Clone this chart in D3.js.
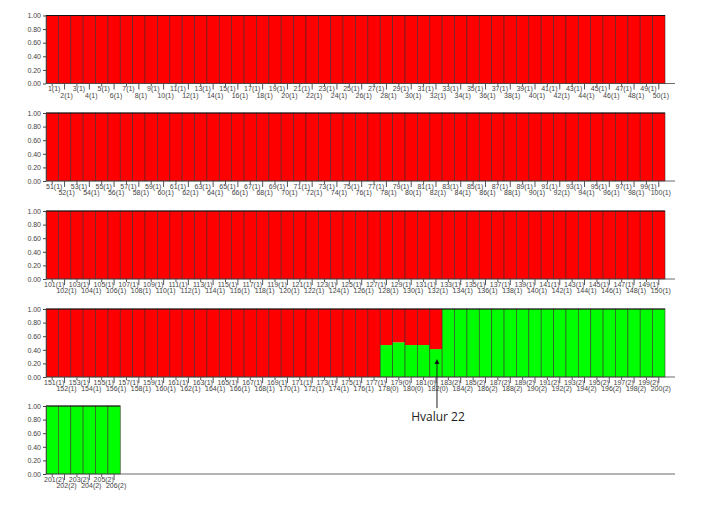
<!DOCTYPE html>
<html>
<head>
<meta charset="utf-8">
<script src="https://cdn.jsdelivr.net/npm/d3@7/dist/d3.min.js"></script>
<style>
  html, body { margin: 0; padding: 0; background: #fff; }
  svg { display: block; }
</style>
</head>
<body>
<svg id="chart" width="713" height="506"></svg>
<script>
// Population assignment for each individual (1..206)
const popIds = [
  1,1,1,1,1,1,1,1,1,1, 1,1,1,1,1,1,1,1,1,1, 1,1,1,1,1,1,1,1,1,1, 1,1,1,1,1,1,1,1,1,1, 1,1,1,1,1,1,1,1,1,1,
  1,1,1,1,1,1,1,1,1,1, 1,1,1,1,1,1,1,1,1,1, 1,1,1,1,1,1,1,1,1,1, 1,1,1,1,1,1,1,1,1,1, 1,1,1,1,1,1,1,1,1,1,
  1,1,1,1,1,1,1,1,1,1, 1,1,1,1,1,1,1,1,1,1, 1,1,1,1,1,1,1,1,1,1, 1,1,1,1,1,1,1,1,1,1, 1,1,1,1,1,1,1,1,1,1,
  1,1,1,1,1,1,1,1,1,1, 1,1,1,1,1,1,1,1,1,1, 1,1,1,1,1,1,1,0,0,0, 0,0,2,2,2,2,2,2,2,2, 2,2,2,2,2,2,2,2,2,2,
  2,2,2,2,2,2
];
// Membership in cluster 2 (green); cluster 1 (red) = 1 - value
const cluster2 = [
  0,0,0,0,0,0,0,0,0,0, 0,0,0,0,0,0,0,0,0,0, 0,0,0,0,0,0,0,0,0,0, 0,0,0,0,0,0,0,0,0,0, 0,0,0,0,0,0,0,0,0,0,
  0,0,0,0,0,0,0,0,0,0, 0,0,0,0,0,0,0,0,0,0, 0,0,0,0,0,0,0,0,0,0, 0,0,0,0,0,0,0,0,0,0, 0,0,0,0,0,0,0,0,0,0,
  0,0,0,0,0,0,0,0,0,0, 0,0,0,0,0,0,0,0,0,0, 0,0,0,0,0,0,0,0,0,0, 0,0,0,0,0,0,0,0,0,0, 0,0,0,0,0,0,0,0,0,0,
  0,0,0,0,0,0,0,0,0,0, 0,0,0,0,0,0,0,0,0,0, 0,0,0,0,0,0,0,0.47,0.51,0.47, 0.47,0.41,1,1,1,1,1,1,1,1, 1,1,1,1,1,1,1,1,1,1,
  1,1,1,1,1,1
];
const yTicks = [0, 0.2, 0.4, 0.6, 0.8, 1.0];
const annotation = { text: "Hvalur 22", individual: 182 };

const colors = { c1: "#ff0000", c2: "#00ff00" };
const perRow = 50;
const rowTops = [15.5, 113, 211, 309, 406];
const rowH = 68;
const left = 46, right = 665, axisEnd = 675;

const svg = d3.select("#chart");
const n = popIds.length;
const nRows = Math.ceil(n / perRow);

const x = d3.scaleBand().domain(d3.range(perRow)).range([left, right]).paddingInner(0).paddingOuter(0);

for (let r = 0; r < nRows; r++) {
  const top = rowTops[r];
  const y = d3.scaleLinear().domain([0, 1]).range([top + rowH, top]);
  const idx = d3.range(r * perRow, Math.min(n, (r + 1) * perRow));
  const g = svg.append("g");

  const bars = g.selectAll("g.bar").data(idx).join("g").attr("class", "bar");
  bars.append("rect")
    .attr("x", i => x(i - r * perRow))
    .attr("width", x.bandwidth())
    .attr("y", i => y(cluster2[i]))
    .attr("height", i => y(0) - y(cluster2[i]))
    .attr("fill", colors.c2);
  bars.append("rect")
    .attr("x", i => x(i - r * perRow))
    .attr("width", x.bandwidth())
    .attr("y", y(1))
    .attr("height", i => y(cluster2[i]) - y(1))
    .attr("fill", colors.c1);
  // outlines
  bars.append("rect")
    .attr("x", i => x(i - r * perRow))
    .attr("width", x.bandwidth())
    .attr("y", y(1))
    .attr("height", y(0) - y(1))
    .attr("fill", "none")
    .attr("stroke", "#3a2a2a")
    .attr("stroke-opacity", 0.75)
    .attr("stroke-width", 0.7);
  // top edge
  const lastX = x(idx.length - 1) + x.bandwidth();
  g.append("line")
    .attr("x1", left).attr("x2", lastX)
    .attr("y1", y(1)).attr("y2", y(1))
    .attr("stroke", "#111").attr("stroke-width", 1.2);

  // Y axis
  const ya = g.append("g")
    .attr("transform", `translate(${left},0)`)
    .call(d3.axisLeft(y).tickValues(yTicks).tickFormat(d3.format(".2f")).tickSize(3).tickSizeOuter(0));
  ya.select(".domain").attr("stroke", "#444").attr("stroke-width", 0.8);
  ya.selectAll(".tick line").attr("stroke", "#444");
  ya.selectAll("text").attr("font-family", "Liberation Sans, Arial, sans-serif")
    .attr("font-size", 7).attr("fill", "#444").attr("x", -5);

  // X axis baseline
  g.append("line")
    .attr("x1", left).attr("x2", axisEnd)
    .attr("y1", y(0)).attr("y2", y(0))
    .attr("stroke", "#444").attr("stroke-width", 0.8);

  const xa = g.append("g")
    .attr("transform", `translate(0,${y(0)})`)
    .call(d3.axisBottom(x)
      .tickValues(idx.map(i => i - r * perRow))
      .tickFormat(j => `${r * perRow + j + 1}(${popIds[r * perRow + j]})`)
      .tickSize(3).tickSizeOuter(0));
  xa.select(".domain").remove();
  xa.selectAll(".tick line").attr("stroke", "#555")
    .attr("y2", j => (j % 2 === 1 ? 6 : 3));
  xa.selectAll("text")
    .attr("font-family", "Liberation Sans, Arial, sans-serif")
    .attr("font-size", 7).attr("fill", "#444")
    .attr("dx", 2)
    .attr("y", j => (j % 2 === 0 ? 3 : 9.5));
}

// Annotation
const ai = annotation.individual - 1;
const ar = Math.floor(ai / perRow);
const ay = d3.scaleLinear().domain([0, 1]).range([rowTops[ar] + rowH, rowTops[ar]]);
const ax = x(ai - ar * perRow) + x.bandwidth() / 2 + 1;
const tipY = ay(cluster2[ai]) + 10;
svg.append("line")
  .attr("x1", ax).attr("x2", ax)
  .attr("y1", tipY + 4).attr("y2", 408)
  .attr("stroke", "#222").attr("stroke-width", 1);
svg.append("path")
  .attr("d", `M${ax},${tipY} L${ax - 2.5},${tipY + 5} L${ax + 2.5},${tipY + 5} Z`)
  .attr("fill", "#111");
svg.append("text")
  .attr("x", ax + 1).attr("y", 421)
  .attr("text-anchor", "middle")
  .attr("font-family", "Open Sans, Noto Sans, sans-serif")
  .attr("font-size", 12).attr("fill", "#222")
  .text(annotation.text);
</script>
</body>
</html>
